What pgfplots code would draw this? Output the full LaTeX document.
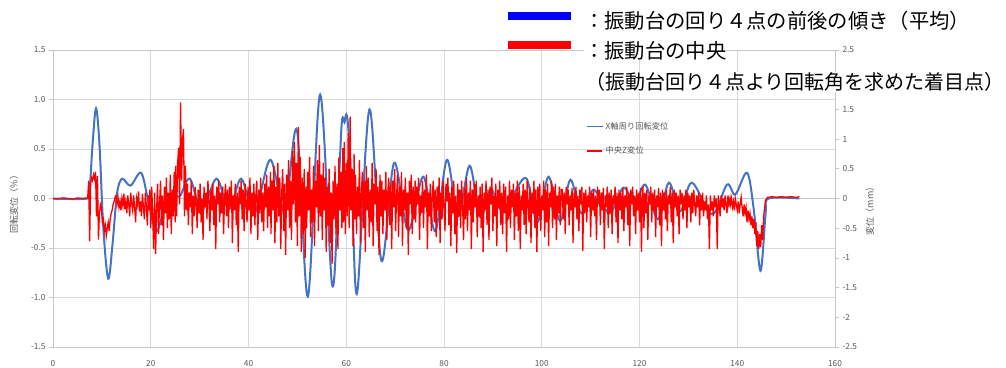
\documentclass[border=0pt]{standalone}
\usepackage{fontspec}
\setmainfont{Noto Sans CJK JP}
\usepackage{pgfplots}
\pgfplotsset{compat=1.18}
\definecolor{rotblue}{HTML}{4472C4}
\definecolor{dispred}{HTML}{FF0000}
\definecolor{gridgray}{HTML}{D9D9D9}
\definecolor{axisgray}{HTML}{C6C6C6}
\definecolor{labelgray}{HTML}{595959}
\newcommand\ticksize{\fontsize{8.3}{10}\selectfont}
\newcommand\titlesize{\fontsize{9}{11}\selectfont}
\newcommand\bigsize{\fontsize{20.3}{24}\selectfont}

\pgfplotsset{
  shakebase/.style={
    scale only axis, width=782pt, height=297pt,
    at={(53pt,20pt)}, anchor=south west,
    xmin=0, xmax=160,
    tick label style={font=\ticksize, text=labelgray},
    label style={font=\titlesize, text=labelgray},
    tick align=outside, major tick length=4pt,
    tick style={draw=axisgray, line width=0.75pt},
    axis line style={draw=axisgray, line width=0.75pt},
  }
}

\begin{document}
\begin{tikzpicture}
\useasboundingbox (0pt,0pt) rectangle (1006pt,367pt);

% rotation about the X axis (left scale, %)
\begin{axis}[shakebase,
  ymin=-1.5, ymax=1.5,
  ytick={-1.5,-1,-0.5,0,0.5,1,1.5},
  yticklabels={-1.5,-1.0,-0.5,0.0,0.5,1.0,1.5},
  xtick={0,20,40,60,80,100,120,140,160},
  xticklabels={0,20,40,60,80,100,120,140,160},
  xtick pos=bottom, ytick pos=left,
  x tick style={draw=none},
  xticklabel style={yshift=-6pt},
  grid=major, major grid style={draw=gridgray, line width=0.75pt},
  ylabel={回転変位（\%）},
  ylabel style={at={(axis description cs:-0.0499,0.488)}, anchor=center},
]
\draw[axisgray, line width=0.75pt] (axis cs:0,0) -- (axis cs:160,0);
\addplot[rotblue, line width=2pt, smooth, tension=0.55] table {
t r
0 0
7.1 0
7.5 0.08
8.1 0.55
8.8 0.91
9.5 0.55
10.3 -0.3
11.3 -0.81
12.2 -0.45
13.1 0.05
14.15 0.2
15.85 0.13
18.0 0.26
19.4 0.0
21.1 -0.33
22.8 -0.1
24.35 0.05
25.9 0.02
28.0 0.2
30.4 -0.12
33.45 0.2
36.0 -0.11
38.5 0.2
41.2 -0.15
44.45 0.39
47.4 -0.12
49.9 0.69
52.15 -0.99
54.65 1.05
57.1 -0.87
58.3 0.0
59.0 0.7
59.3 0.82
59.65 0.77
60.0 0.85
60.4 0.72
61.2 0.0
62.25 -0.95
64.75 0.9
67.2 -0.63
69.8 0.36
72.65 -0.32
75.75 0.22
78.2 -0.33
80.6 0.39
82.85 -0.18
85.25 0.33
87.4 -0.19
89.6 0.09
91.7 -0.12
94.25 0.05
96.9 0.2
99.1 -0.24
101.4 0.22
103.75 -0.23
105.85 0.19
108.1 -0.15
110.6 0.09
113.85 -0.15
116.7 0.11
119.0 -0.05
121.2 0.14
123.75 -0.21
126.0 0.16
128.3 -0.13
130.7 0.16
134.85 -0.16
137.9 0.14
139.6 0.04
142.0 0.26
143.35 -0.1
144.75 -0.73
145.8 -0.15
146.4 0.0
152.7 0.0
};
\end{axis}

% vertical displacement at the centre (right scale, mm)
\begin{axis}[shakebase,
  ymin=-2.5, ymax=2.5,
  axis x line=none, axis y line*=right,
  ytick={-2.5,-2,-1.5,-1,-0.5,0,0.5,1,1.5,2,2.5},
  yticklabels={-2.5,-2,-1.5,-1,-0.5,0,0.5,1,1.5,{},2.5},
  ylabel={変位（mm）},
  ylabel style={at={(axis description cs:1.0448,0.465)}, anchor=center},
  legend style={at={(0.682,0.764)}, anchor=north west, draw=none, fill=none,
    font=\ticksize, row sep=12pt, inner sep=0pt,
    nodes={text=labelgray}},
  legend cell align=left,
]
\addlegendimage{legend image code/.code={\draw[draw=rotblue, line width=1pt] (0pt,0pt) -- (16pt,0pt);}}
\addlegendentry{X軸周り回転変位}
\addlegendimage{legend image code/.code={\draw[draw=red, line width=1.2pt] (0pt,0pt) -- (15pt,0pt);}}
\addlegendentry{中央Z変位}
\addplot[dispred, line width=1.3pt, forget plot] table[row sep=\\] {
t z\\
0 0.00\\ 1 -0.01\\ 2 0.01\\ 3 0.00\\ 4 -0.01\\ 5 0.01\\ 6 0.00\\ 7.1 0.01\\
7.3 0.30\\ 7.5 -0.72\\ 7.7 0.25\\ 7.9 0.35\\ 8.1 0.30\\ 8.3 0.40\\ 8.5 0.33\\ 8.7 0.45\\ 8.9 -0.30\\ 9.1 0.38\\
9.3 -0.69\\ 9.5 -0.25\\ 9.7 -0.10\\ 9.9 -0.15\\ 10.1 -0.40\\ 10.3 -0.35\\ 10.5 -0.55\\ 10.7 -0.45\\ 10.9 -0.63\\ 11.1 -0.50\\
11.3 -0.40\\ 11.5 -0.55\\ 11.7 -0.35\\ 11.9 -0.25\\ 12.1 -0.20\\ 12.3 -0.10\\ 12.5 -0.05\\ 12.7 0.02\\
12.9 0.05\\ 13.1 -0.10\\ 13.3 0.02\\ 13.5 -0.15\\ 13.7 -0.05\\ 13.9 -0.20\\ 14.1 0.00\\ 14.3 -0.12\\ 14.5 0.08\\ 14.7 -0.18\\
14.9 -0.05\\ 15.1 -0.25\\ 15.3 0.05\\ 15.5 -0.10\\ 15.7 -0.30\\ 15.9 0.10\\ 16.1 -0.08\\ 16.3 -0.20\\ 16.5 0.05\\ 16.7 -0.15\\
16.9 -0.40\\ 17.1 0.00\\ 17.3 -0.10\\ 17.5 0.12\\ 17.7 -0.22\\ 17.9 -0.05\\ 18.1 -0.30\\ 18.3 0.08\\ 18.5 -0.15\\ 18.7 -0.35\\
18.9 0.10\\ 19.1 -0.12\\ 19.3 -0.45\\ 19.5 0.05\\ 19.7 -0.20\\
19.8 0.15\\ 20.0 -0.50\\ 20.2 0.20\\ 20.4 -0.30\\ 20.6 -0.85\\ 20.8 0.10\\ 21.0 -0.93\\ 21.2 -0.20\\ 21.4 0.25\\ 21.6 -0.60\\
21.8 -0.10\\ 22.0 0.30\\ 22.2 -0.45\\ 22.4 0.05\\ 22.6 -0.70\\ 22.8 0.20\\ 23.0 -0.25\\ 23.2 0.35\\ 23.4 -0.50\\ 23.6 0.10\\
23.8 -0.35\\ 24.0 0.40\\ 24.2 -0.60\\ 24.4 0.15\\ 24.6 -0.30\\ 24.8 0.45\\ 25.0 -0.40\\
25.1 0.55\\ 25.3 -0.30\\ 25.5 0.60\\ 25.7 0.85\\ 25.9 -0.10\\ 26.1 1.62\\ 26.3 0.30\\ 26.5 1.00\\ 26.7 1.17\\ 26.9 -0.30\\ 27.1 0.55\\
27.3 -0.20\\ 27.5 0.25\\ 27.7 -0.45\\ 27.9 0.10\\ 28.1 -0.15\\ 28.3 0.30\\ 28.5 -0.60\\ 28.7 0.05\\ 28.9 -0.30\\ 29.1 0.20\\
29.3 -0.10\\ 29.5 -0.50\\ 29.7 0.15\\ 29.9 -0.25\\ 30.1 0.25\\ 30.3 -0.40\\ 30.5 0.00\\ 30.7 -0.70\\ 30.9 0.20\\ 31.1 -0.15\\
31.3 0.10\\ 31.5 -0.35\\ 31.7 0.30\\ 31.9 -0.05\\ 32.1 -0.55\\ 32.3 0.15\\ 32.5 -0.20\\ 32.7 0.25\\ 32.9 -0.45\\ 33.1 0.05\\
33.3 -0.85\\ 33.5 0.20\\ 33.7 -0.10\\ 33.9 0.30\\ 34.1 -0.40\\ 34.3 0.10\\ 34.5 -0.25\\ 34.7 0.20\\ 34.9 -0.60\\ 35.1 0.00\\
35.3 0.25\\ 35.5 -0.30\\ 35.7 0.15\\ 35.9 -0.50\\ 36.1 0.20\\ 36.3 -0.15\\ 36.5 0.30\\ 36.7 -0.75\\ 36.9 0.05\\ 37.1 -0.20\\
37.3 0.25\\ 37.5 -0.45\\ 37.7 0.10\\ 37.9 -0.90\\ 38.1 0.20\\ 38.3 -0.10\\ 38.5 0.30\\ 38.7 -0.35\\ 38.9 0.15\\ 39.1 -0.55\\
39.3 0.25\\ 39.5 -0.05\\ 39.7 -0.40\\ 39.9 0.20\\ 40.1 -0.20\\ 40.3 0.35\\ 40.5 -0.60\\ 40.7 0.10\\ 40.9 -0.30\\ 41.1 0.25\\
41.3 -0.45\\ 41.5 0.05\\ 41.7 0.30\\ 41.9 -0.70\\ 42.1 0.15\\ 42.3 -0.25\\ 42.5 0.35\\ 42.7 -0.40\\ 42.9 0.10\\ 43.1 -0.55\\
43.3 0.25\\ 43.5 -0.15\\ 43.7 0.40\\ 43.9 -0.50\\ 44.1 0.20\\ 44.3 -0.30\\ 44.5 0.45\\
44.6 -0.60\\ 44.8 0.30\\ 45.0 -0.20\\ 45.2 0.55\\ 45.4 -0.75\\ 45.6 0.20\\ 45.8 -0.40\\ 46.0 0.60\\ 46.2 -0.30\\ 46.4 0.35\\
46.6 -0.85\\ 46.8 0.10\\ 47.0 0.50\\ 47.2 -0.55\\ 47.4 0.25\\ 47.6 -0.95\\ 47.8 0.40\\ 48.0 -0.20\\ 48.2 0.65\\ 48.4 -0.50\\
48.6 0.30\\ 48.8 -0.70\\ 49.0 0.80\\ 49.2 -0.10\\ 49.4 0.95\\ 49.6 -0.40\\ 49.8 0.60\\ 50.0 -0.80\\ 50.2 1.20\\ 50.4 -0.30\\
50.6 0.70\\ 50.8 -0.90\\ 51.0 0.35\\ 51.2 -0.60\\ 51.4 0.50\\ 51.6 -1.00\\ 51.8 0.20\\
51.9 -0.50\\ 52.1 0.45\\ 52.3 -0.20\\ 52.5 0.70\\ 52.7 -0.65\\ 52.9 0.15\\ 53.1 -0.40\\ 53.3 0.55\\ 53.5 -0.80\\ 53.7 0.30\\
53.9 -0.15\\ 54.1 0.65\\ 54.3 -0.55\\ 54.5 0.90\\ 54.7 -0.30\\ 54.9 0.40\\ 55.1 -0.70\\ 55.3 0.60\\ 55.5 -0.20\\ 55.7 0.35\\
55.9 -0.90\\ 56.1 0.20\\ 56.3 -0.45\\ 56.5 0.50\\ 56.7 -0.75\\ 56.9 0.10\\ 57.1 -1.10\\ 57.3 0.30\\ 57.5 -0.35\\ 57.7 0.55\\
57.9 -0.60\\ 58.1 0.25\\ 58.3 -0.85\\ 58.5 0.70\\ 58.7 -0.20\\ 58.9 0.45\\ 59.1 -0.50\\ 59.3 0.85\\
59.4 -0.40\\ 59.6 0.95\\ 59.8 -0.60\\ 60.0 0.60\\ 60.2 -0.30\\ 60.4 1.10\\ 60.6 -0.50\\ 60.8 1.38\\ 61.0 -0.20\\ 61.2 0.50\\
61.4 -0.80\\ 61.6 0.75\\ 61.8 -0.35\\
61.9 0.40\\ 62.1 -0.60\\ 62.3 0.20\\ 62.5 -0.30\\ 62.7 0.65\\ 62.9 -0.75\\ 63.1 0.10\\ 63.3 0.45\\ 63.5 -0.50\\ 63.7 0.30\\
63.9 -0.90\\ 64.1 0.55\\ 64.3 -0.20\\ 64.5 0.35\\ 64.7 -0.65\\ 64.9 0.15\\ 65.1 -0.40\\ 65.3 0.60\\ 65.5 -0.80\\ 65.7 0.25\\
65.9 -0.10\\ 66.1 0.50\\ 66.3 -0.55\\ 66.5 0.20\\ 66.7 -0.95\\ 66.9 0.40\\ 67.1 -0.30\\ 67.3 0.30\\ 67.5 -0.60\\ 67.7 0.15\\
67.9 -0.20\\ 68.1 0.45\\ 68.3 -0.70\\ 68.5 0.10\\ 68.7 0.35\\ 68.9 -0.45\\ 69.1 0.25\\ 69.3 -0.85\\ 69.5 0.30\\ 69.7 -0.15\\
69.9 0.50\\ 70.1 -0.55\\ 70.3 0.05\\ 70.5 0.40\\ 70.7 -0.65\\ 70.9 0.20\\ 71.1 -0.30\\ 71.3 0.45\\ 71.5 -0.80\\ 71.7 0.15\\
71.9 -0.20\\ 72.1 0.35\\ 72.3 -0.50\\ 72.5 0.10\\ 72.7 -0.95\\ 72.9 0.30\\ 73.1 -0.10\\ 73.3 0.40\\ 73.5 -0.60\\ 73.7 0.20\\
73.9 -0.35\\ 74.1 0.30\\
74.2 -0.40\\ 74.4 0.20\\ 74.6 -0.10\\ 74.8 0.35\\ 75.0 -0.70\\ 75.2 0.05\\ 75.4 -0.25\\ 75.6 0.30\\ 75.8 -0.50\\ 76.0 0.15\\
76.2 -0.15\\ 76.4 0.40\\ 76.6 -0.85\\ 76.8 0.10\\ 77.0 -0.30\\ 77.2 0.25\\ 77.4 -0.55\\ 77.6 0.05\\ 77.8 0.30\\ 78.0 -0.40\\
78.2 0.15\\ 78.4 -0.65\\ 78.6 0.20\\ 78.8 -0.20\\ 79.0 0.35\\ 79.2 -0.75\\ 79.4 0.10\\ 79.6 -0.35\\ 79.8 0.30\\ 80.0 -0.15\\
80.2 -0.55\\ 80.4 0.25\\ 80.6 -0.05\\ 80.8 0.35\\ 81.0 -0.45\\ 81.2 0.10\\ 81.4 -0.80\\ 81.6 0.20\\ 81.8 -0.25\\ 82.0 0.30\\
82.2 -0.60\\ 82.4 0.05\\ 82.6 -0.92\\ 82.8 0.25\\ 83.0 -0.30\\ 83.2 0.15\\ 83.4 -0.50\\ 83.6 0.30\\ 83.8 -0.10\\ 84.0 -0.70\\
84.2 0.20\\ 84.4 -0.35\\ 84.6 0.35\\ 84.8 -0.55\\ 85.0 0.10\\ 85.2 -0.20\\ 85.4 0.30\\ 85.6 -0.85\\ 85.8 0.15\\ 86.0 -0.40\\
86.2 0.25\\ 86.4 -0.15\\ 86.6 0.30\\ 86.8 -0.65\\ 87.0 0.05\\ 87.2 -0.30\\ 87.4 0.20\\ 87.6 -0.50\\ 87.8 0.25\\ 88.0 -0.90\\
88.2 0.10\\ 88.4 -0.20\\ 88.6 0.30\\ 88.8 -0.45\\ 89.0 0.15\\ 89.2 -0.70\\ 89.4 0.20\\ 89.6 -0.10\\ 89.8 0.35\\ 90.0 -0.55\\
90.2 0.05\\ 90.4 -0.30\\ 90.6 0.25\\ 90.8 -0.80\\ 91.0 0.15\\ 91.2 -0.15\\ 91.4 0.30\\ 91.6 -0.45\\ 91.8 0.10\\ 92.0 -0.60\\
92.2 0.25\\ 92.4 -0.25\\ 92.6 0.20\\ 92.8 -0.90\\ 93.0 0.05\\ 93.2 -0.35\\ 93.4 0.30\\ 93.6 -0.50\\ 93.8 0.15\\ 94.0 -0.15\\
94.2 0.25\\ 94.4 -0.70\\ 94.6 0.10\\ 94.8 -0.30\\ 95.0 0.30\\ 95.2 -0.55\\ 95.4 0.20\\ 95.6 -0.85\\ 95.8 0.05\\ 96.0 -0.20\\
96.2 0.25\\ 96.4 -0.45\\ 96.6 0.15\\ 96.8 -0.60\\ 97.0 0.30\\ 97.2 -0.10\\ 97.4 -0.40\\ 97.6 0.20\\ 97.8 -0.75\\ 98.0 0.10\\
98.2 -0.25\\ 98.4 0.30\\ 98.6 -0.50\\ 98.8 0.15\\ 99.0 -0.90\\ 99.2 0.20\\ 99.4 -0.30\\ 99.6 0.25\\ 99.8 -0.55\\ 100.0 0.05\\
100.2 -0.20\\ 100.4 0.30\\ 100.6 -0.65\\ 100.8 0.15\\ 101.0 -0.40\\ 101.2 0.25\\ 101.4 -0.80\\ 101.6 0.10\\ 101.8 -0.15\\ 102.0 0.30\\
102.2 -0.50\\ 102.4 0.20\\ 102.6 -0.35\\ 102.8 0.25\\ 103.0 -0.70\\ 103.2 0.05\\ 103.4 -0.25\\ 103.6 0.20\\ 103.8 -0.45\\ 104.0 0.15\\
104.2 0.15\\ 104.4 -0.35\\ 104.6 0.10\\ 104.8 -0.60\\ 105.0 0.20\\ 105.2 -0.10\\ 105.4 0.15\\ 105.6 -0.45\\ 105.8 0.05\\ 106.0 -0.20\\
106.2 0.18\\ 106.4 -0.75\\ 106.6 0.10\\ 106.8 -0.15\\ 107.0 0.20\\ 107.2 -0.35\\ 107.4 0.05\\ 107.6 -0.55\\ 107.8 0.15\\ 108.0 -0.10\\
108.2 0.20\\ 108.4 -0.88\\ 108.6 0.10\\ 108.8 -0.25\\ 109.0 0.15\\ 109.2 -0.40\\ 109.4 0.05\\ 109.6 -0.15\\ 109.8 0.20\\ 110.0 -0.65\\
110.2 0.10\\ 110.4 -0.20\\ 110.6 0.15\\ 110.8 -0.30\\ 111.0 0.05\\ 111.2 -0.70\\ 111.4 0.20\\ 111.6 -0.10\\ 111.8 0.15\\ 112.0 -0.45\\
112.2 0.10\\ 112.4 -0.20\\ 112.6 0.18\\ 112.8 -0.85\\ 113.0 0.05\\ 113.2 -0.15\\ 113.4 0.20\\ 113.6 -0.50\\ 113.8 0.10\\ 114.0 -0.25\\
114.2 0.15\\ 114.4 -0.60\\ 114.6 0.05\\ 114.8 -0.10\\ 115.0 0.20\\ 115.2 -0.40\\ 115.4 0.10\\ 115.6 -0.75\\ 115.8 0.15\\ 116.0 -0.20\\
116.2 0.10\\ 116.4 -0.35\\ 116.6 0.18\\ 116.8 -0.55\\ 117.0 0.05\\ 117.2 -0.15\\ 117.4 0.20\\ 117.6 -0.45\\ 117.8 0.10\\ 118.0 -0.80\\
118.2 0.15\\ 118.4 -0.10\\ 118.6 0.20\\ 118.8 -0.30\\ 119.0 0.05\\ 119.2 -0.60\\ 119.4 0.15\\ 119.6 -0.20\\ 119.8 0.10\\ 120.0 -0.40\\
120.2 0.18\\ 120.4 -0.90\\ 120.6 0.05\\
120.7 0.20\\ 120.9 -0.50\\ 121.1 0.10\\ 121.3 -0.25\\ 121.5 0.15\\ 121.7 -0.70\\ 121.9 0.05\\ 122.1 -0.10\\ 122.3 0.20\\ 122.5 -0.40\\
122.7 0.10\\ 122.9 -0.20\\ 123.1 0.15\\ 123.3 -0.65\\ 123.5 0.05\\ 123.7 -0.15\\ 123.9 0.18\\ 124.1 -0.45\\ 124.3 0.10\\ 124.5 -0.80\\
124.7 0.15\\ 124.9 -0.20\\ 125.1 0.10\\ 125.3 -0.35\\ 125.5 0.15\\ 125.7 -0.55\\ 125.9 0.05\\ 126.1 -0.10\\ 126.3 0.20\\ 126.5 -0.40\\
126.7 0.10\\ 126.9 -0.75\\ 127.1 0.15\\ 127.3 -0.15\\ 127.5 0.10\\ 127.7 -0.30\\ 127.9 0.05\\ 128.1 -0.60\\ 128.3 0.15\\ 128.5 -0.10\\
128.7 0.10\\ 128.9 -0.35\\ 129.1 0.05\\ 129.3 -0.20\\ 129.5 0.15\\ 129.7 -0.50\\ 129.9 0.10\\ 130.1 -0.15\\ 130.3 0.05\\ 130.5 -0.40\\
130.7 0.10\\ 130.9 -0.25\\ 131.1 0.15\\ 131.3 -0.10\\ 131.5 -0.30\\ 131.7 0.05\\ 131.9 -0.15\\ 132.1 0.10\\ 132.3 -0.45\\ 132.5 0.05\\
132.7 -0.20\\ 132.9 0.10\\ 133.1 -0.30\\ 133.3 -0.05\\ 133.5 -0.20\\ 133.7 0.05\\ 133.9 -0.35\\ 134.1 -0.10\\ 134.3 -0.85\\ 134.5 0.05\\
134.7 -0.20\\ 134.9 -0.05\\ 135.1 -0.30\\ 135.3 0.05\\ 135.5 -0.15\\ 135.7 0.00\\ 135.9 -0.85\\ 136.1 0.05\\ 136.3 -0.10\\ 136.5 -0.30\\
136.7 0.05\\ 136.9 -0.15\\ 137.1 0.00\\ 137.3 -0.20\\ 137.5 0.05\\ 137.7 -0.10\\ 137.9 -0.25\\ 138.1 0.05\\ 138.3 -0.10\\ 138.5 0.00\\
138.6 -0.10\\ 138.8 0.00\\ 139.0 -0.15\\ 139.2 -0.05\\ 139.4 -0.20\\ 139.6 0.00\\ 139.8 -0.10\\ 140.0 -0.20\\ 140.2 -0.05\\ 140.4 -0.25\\
140.6 -0.10\\ 140.8 0.02\\ 141.0 -0.15\\ 141.2 -0.30\\ 141.4 -0.10\\ 141.6 -0.25\\ 141.8 -0.15\\ 142.0 -0.40\\ 142.2 -0.20\\ 142.4 -0.35\\
142.6 -0.25\\ 142.8 -0.45\\ 143.0 -0.30\\ 143.2 -0.50\\ 143.4 -0.35\\ 143.6 -0.60\\ 143.8 -0.40\\ 144.0 -0.80\\ 144.2 -0.55\\ 144.4 -0.85\\
144.6 -0.60\\ 144.8 -0.82\\ 145.0 -0.45\\ 145.2 -0.70\\ 145.4 -0.30\\ 145.6 -0.15\\ 145.8 -0.05\\ 146.0 0.00\\ 146.2 0.02\\
146.4 0.02\\ 147 0.03\\ 148 0.02\\ 149 0.03\\ 150 0.02\\ 151 0.03\\ 152 0.02\\ 152.7 0.03\\
};
\end{axis}

% key for the two traces
\fill[blue] (508pt,347pt) rectangle (571pt,355pt);
\fill[red] (508pt,318pt) rectangle (571pt,326pt);
\node[anchor=west, inner sep=0pt, fill=white, font=\bigsize] at (584pt,346pt)
  {：振動台の回り４点の前後の傾き（平均）};
\node[anchor=west, inner sep=0pt, fill=white, font=\bigsize] at (584pt,316pt)
  {：振動台の中央};
\node[anchor=west, inner sep=0pt, fill=white, font=\fontsize{20}{24}\selectfont] at (585pt,285pt)
  {（振動台回り４点より回転角を求めた着目点）};
\end{tikzpicture}
\end{document}
